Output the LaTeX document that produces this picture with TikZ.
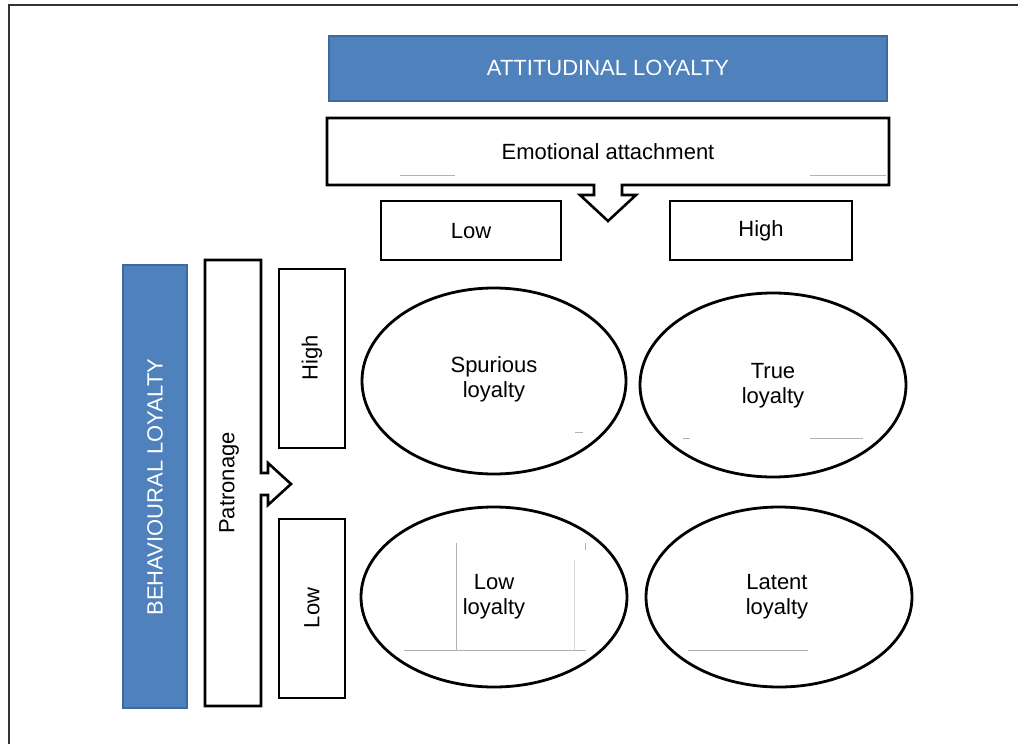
\documentclass[tikz,border=0pt]{standalone}
\usepackage{fontspec}
\setmainfont{Liberation Sans}
\usetikzlibrary{shapes.geometric}
\definecolor{officeblue}{HTML}{4F81BD}
\definecolor{officeblueedge}{HTML}{3D6A9E}
\begin{document}
\begin{tikzpicture}[x=1pt,y=-1pt,
  txt/.style={font=\fontsize{22}{25}\selectfont, align=center, inner sep=0pt},
  bluebar/.style={fill=officeblue, draw=officeblueedge, line width=1.2pt},
  whitebox/.style={draw=black, fill=white, line width=2.6pt},
  oval/.style={draw=black, line width=2.8pt},
  stray/.style={draw=gray!60, line width=0.8pt}]
\useasboundingbox (0,0) rectangle (1018,744);
% outer frame (top and left edges visible)
\draw[gray!40!black, line width=1.6pt] (9,744) -- (9,5) -- (1018,5);

% attitudinal loyalty bar
\draw[bluebar] (329,36) rectangle (887,101);
\node[txt, text=white] (att) at (608,68) {ATTITUDINAL LOYALTY};

% emotional attachment callout
\draw[whitebox, miter limit=10] (327,118) -- (889,118) -- (889,185) -- (622,185) -- (622,195) -- (636,195)
  -- (608,221) -- (580,195) -- (594,195) -- (594,185) -- (327,185) -- cycle;
\node[txt] (emo) at (608,152) {Emotional attachment};
\draw[stray] (400,175) -- (455,175);
\draw[stray] (810,175) -- (886,175);

% low / high (attitudinal)
\draw[whitebox] (381,201) rectangle (561,260);
\node[txt] (alow) at (471,231) {Low};
\draw[whitebox] (670,201) rectangle (852,260);
\node[txt] (ahigh) at (761,231) {High};

% behavioural loyalty bar
\draw[bluebar] (123,265) rectangle (187,708);
\node[txt, text=white, rotate=90] (beh) at (155,487) {BEHAVIOURAL LOYALTY};

% patronage callout
\draw[whitebox, miter limit=10] (205,260) -- (261,260) -- (261,473) -- (268,473) -- (268,463) -- (291,484)
  -- (268,505) -- (268,495) -- (261,495) -- (261,706) -- (205,706) -- cycle;
\node[txt, rotate=90] (pat) at (229,483) {Patronage};

% high / low (behavioural)
\draw[whitebox] (279,269) rectangle (345,448);
\node[txt, rotate=90] (bhigh) at (312,358) {High};
\draw[whitebox] (279,519) rectangle (345,698);
\node[txt, rotate=90] (blow) at (312,608) {Low};

% ellipses
\draw[oval] (494,381) ellipse [x radius=132, y radius=93];
\node[txt] (spur) at (494,379) {Spurious\\loyalty};
\draw[oval] (773,385) ellipse [x radius=133, y radius=92];
\node[txt] (true) at (773,386) {True\\loyalty};
\draw[oval] (494,597) ellipse [x radius=133, y radius=90];
\node[txt] (lowl) at (494,597) {Low\\loyalty};
\draw[oval] (779,597) ellipse [x radius=133, y radius=90];
\node[txt] (lat) at (777,597) {Latent\\loyalty};

% faint stray lines
\draw[stray] (575,432) -- (583,432);
\draw[stray] (683,438) -- (690,438);
\draw[stray] (810,438) -- (863,438);
\draw[stray] (456,543) -- (456,650);
\draw[stray] (404,650) -- (586,650);
\draw[draw=gray!30, line width=0.6pt] (574,560) -- (574,650);
\draw[stray] (585,543) -- (585,550);
\draw[stray] (688,650) -- (808,650);
\end{tikzpicture}
\end{document}
